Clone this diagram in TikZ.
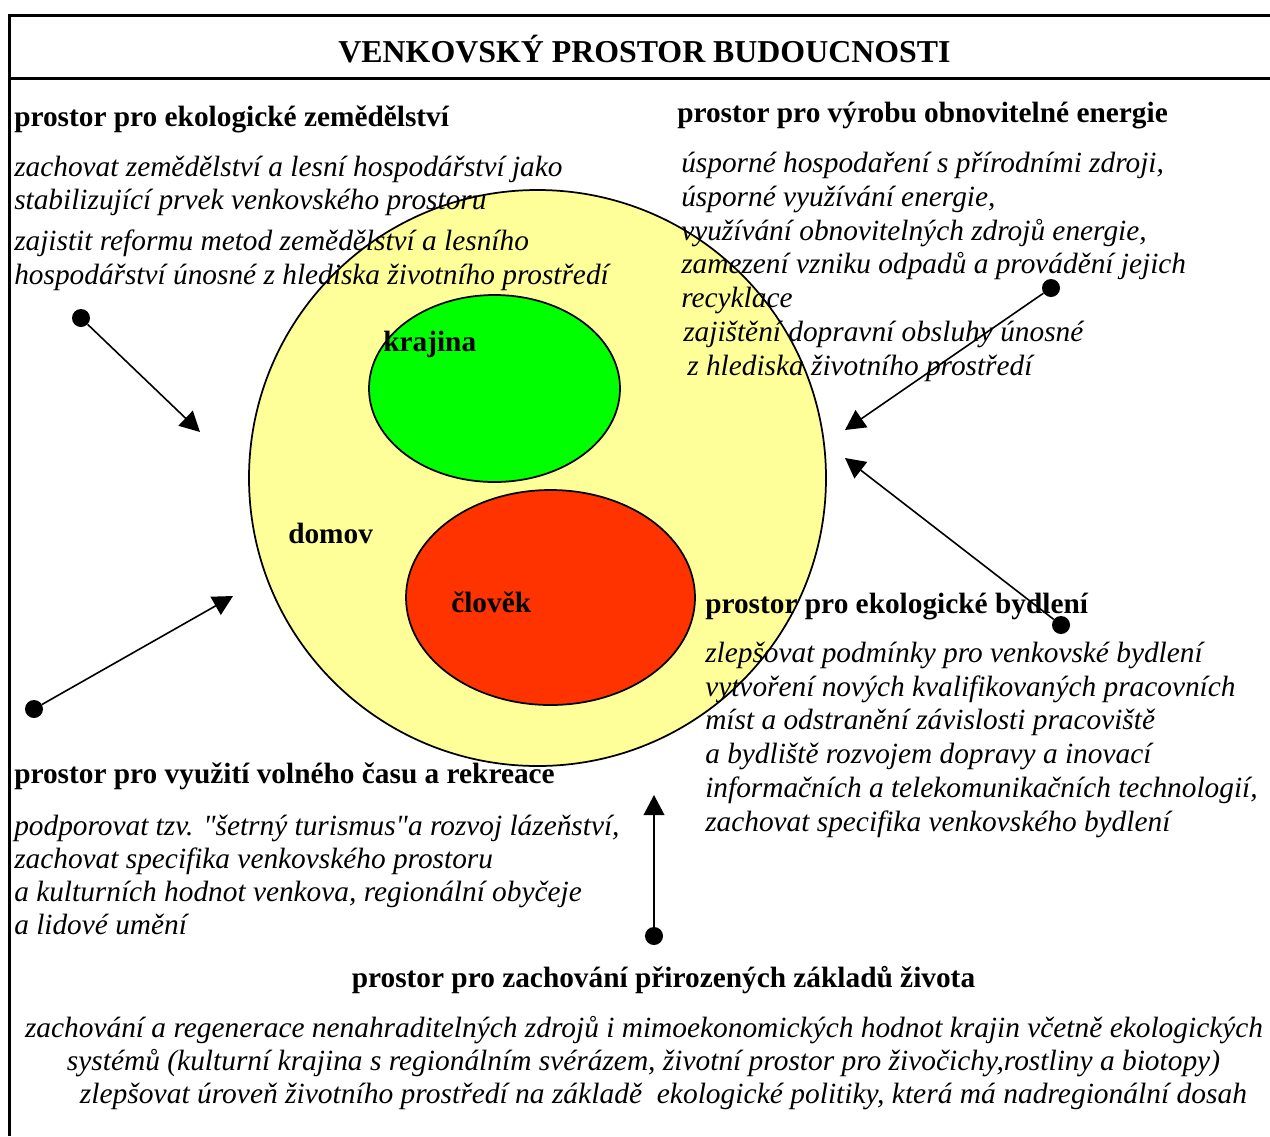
\documentclass[tikz,border=0pt]{standalone}
\usepackage{fontspec}
\setmainfont{Liberation Serif}
\usetikzlibrary{arrows.meta,shapes.geometric}

\definecolor{homeyellow}{HTML}{FFFF99}
\definecolor{landgreen}{HTML}{00FF00}
\definecolor{manred}{HTML}{FF3300}

\tikzset{
  body/.style={anchor=base west, inner sep=0pt, font=\fontsize{22}{26}\selectfont\itshape},
  bodyc/.style={anchor=base, inner sep=0pt, font=\fontsize{22}{26}\selectfont\itshape},
  head/.style={anchor=base west, inner sep=0pt, font=\fontsize{22}{26}\selectfont\bfseries},
  headc/.style={anchor=base, inner sep=0pt, font=\fontsize{22}{26}\selectfont\bfseries},
  label/.style={anchor=base west, inner sep=0pt, font=\fontsize{22}{26}\selectfont\bfseries},
  zone/.style={ellipse, draw, line width=1.3pt, inner sep=0pt},
  dot/.style={circle, fill, inner sep=0pt, minimum size=13.5pt},
  arr/.style={line width=1.2pt, -{Triangle[length=15pt, width=15.5pt]}},
  frame/.style={line width=2pt},
}

\newcommand{\fitline}[2]{\resizebox{#1}{\height}{#2}}

\begin{document}
\begin{tikzpicture}[x=0.75pt,y=-0.75pt]
\useasboundingbox (0,0) rectangle (1270,1136);

% outer frame and title rule
\draw[frame] (8,15.5) -- (1270,15.5);
\draw[frame] (9.5,14.5) -- (9.5,1136);
\draw[frame] (8,78.5) -- (1270,78.5);

\node[headc, font=\fontsize{23.9}{28}\selectfont\bfseries] (title) at (644.5,62) {VENKOVSKÝ PROSTOR BUDOUCNOSTI};

% nested zones
\node[zone, fill=homeyellow, minimum width=432.75pt, minimum height=432pt] (home) at (537.5,478) {};
\node[zone, fill=landgreen, minimum width=188.25pt, minimum height=140.25pt] (land) at (494.5,388.5) {};
\node[zone, fill=manred, minimum width=216.75pt, minimum height=161.25pt] (man) at (550.5,597.5) {};

\node[label] (lland) at (383,351) {krajina};
\node[label] (lhome) at (288,543) {domov};
\node[label] (lman) at (451,612) {člověk};

% agriculture
\node[head] (h1) at (14,126) {prostor pro ekologické zemědělství};
\node[body] (a1) at (14,176) {zachovat zemědělství a lesní hospodářství jako};
\node[body] (a2) at (14,209) {stabilizující prvek venkovského prostoru};
\node[body] (a3) at (14,250) {zajistit reformu metod zemědělství a lesního};
\node[body] (a4) at (14,284) {hospodářství únosné z hlediska životního prostředí};

% renewable energy
\node[head] (h2) at (677,122) {prostor pro výrobu obnovitelné energie};
\node[body] (b1) at (681,172) {úsporné hospodaření s přírodními zdroji,};
\node[body] (b2) at (681,206) {úsporné využívání energie,};
\node[body] (b3) at (681,240) {využívání obnovitelných zdrojů energie,};
\node[body] (b4) at (681,273) {zamezení vzniku odpadů a provádění jejich};
\node[body] (b5) at (681,307) {recyklace};
\node[body] (b6) at (683,341) {zajištění dopravní obsluhy únosné};
\node[body] (b7) at (687,375) {z hlediska životního prostředí};

% housing
\node[head] (h3) at (705,613) {prostor pro ekologické bydlení};
\node[body] (c1) at (705,662) {zlepšovat podmínky pro venkovské bydlení};
\node[body] (c2) at (705,696) {vytvoření nových kvalifikovaných pracovních};
\node[body] (c3) at (705,729) {míst a odstranění závislosti pracoviště};
\node[body] (c4) at (705,763) {a bydliště rozvojem dopravy a inovací};
\node[body] (c5) at (705,797) {informačních a telekomunikačních technologií,};
\node[body] (c6) at (705,831) {zachovat specifika venkovského bydlení};

% leisure
\node[head] (h4) at (14,783) {prostor pro využití volného času a rekreace};
\node[body] (e1) at (14,835) {podporovat tzv. \textquotedbl šetrný turismus\textquotedbl a rozvoj lázeňství,};
\node[body] (e2) at (14,868) {zachovat specifika venkovského prostoru};
\node[body] (e3) at (14,901) {a kulturních hodnot venkova, regionální obyčeje};
\node[body] (e4) at (14,934) {a lidové umění};

% natural foundations
\node[headc] (h5) at (663.5,987) {prostor pro zachování přirozených základů života};
\node[bodyc] (f1) at (644,1037) {\fitline{928.5pt}{zachování a regenerace nenahraditelných zdrojů i mimoekonomických hodnot krajin včetně ekologických}};
\node[bodyc] (f2) at (643.5,1070) {\fitline{864.75pt}{systémů (kulturní krajina s regionálním svérázem, životní prostor pro živočichy,rostliny a biotopy)}};
\node[bodyc] (f3) at (663.5,1103) {\fitline{875.25pt}{zlepšovat úroveň životního prostředí na základě\ \ ekologické politiky, která má nadregionální dosah}};

% connectors pointing at the zones
\node[dot] (d1) at (81,318) {};
\coordinate (t1) at (200,432);
\draw[arr] (d1) -- (t1);

\node[dot] (d2) at (1051,288) {};
\coordinate (t2) at (845,430);
\draw[arr] (d2) -- (t2);

\node[dot] (d3) at (1061,625) {};
\coordinate (t3) at (845,458);
\draw[arr] (d3) -- (t3);

\node[dot] (d4) at (34,709) {};
\coordinate (t4) at (233,596);
\draw[arr] (d4) -- (t4);

\node[dot] (d5) at (654,936) {};
\coordinate (t5) at (654,795);
\draw[arr] (d5) -- (t5);

\end{tikzpicture}
\end{document}
